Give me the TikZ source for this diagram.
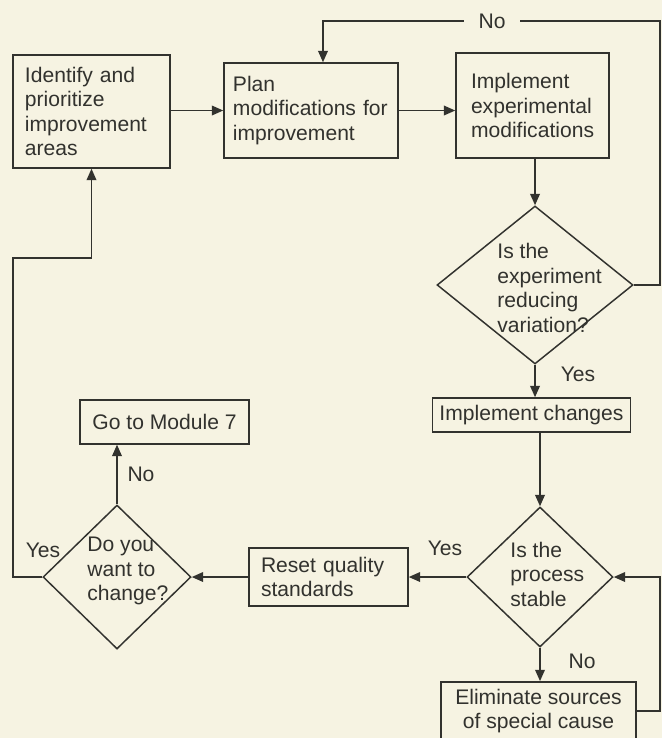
\documentclass[tikz,border=0pt]{standalone}
\usepackage{fontspec}
\setmainfont{Liberation Sans}
\usetikzlibrary{shapes.geometric,arrows.meta}
\definecolor{paper}{RGB}{246,243,226}
\definecolor{ink}{RGB}{50,50,46}

\begin{document}
\begin{tikzpicture}[
  font=\fontsize{10}{11.6}\selectfont,
  every node/.style={text=ink},
  block/.style={draw=ink, line width=0.7pt, align=left, inner xsep=0.2cm},
  single/.style={draw=ink, line width=0.7pt, align=center},
  choice/.style={draw=ink, line width=0.7pt, diamond, inner sep=0pt},
  words/.style={align=left, inner sep=0pt},
  flow/.style={draw=ink, line width=0.8pt, -{Triangle[length=1.9mm,width=1.6mm]}}
]

\fill[paper] (0,0) rectangle (11.033,12.3);
\useasboundingbox (0,0) rectangle (11.033,12.3);

% top row
\node[block, text width=2.217cm, minimum height=1.883cm] (ident) at (1.525,10.442)
  {Identify and\\prioritize\\improvement\\areas};
\node[block, text width=2.6cm, inner xsep=0.15cm, minimum height=1.583cm] (plan) at (5.183,10.458)
  {Plan\\modifications for\\improvement};
\node[block, text width=2.05cm, inner xsep=0.25cm, minimum height=1.75cm] (impl) at (8.875,10.542)
  {Implement\\experimental\\modifications};

% right column
\node[choice, minimum width=3.267cm, minimum height=2.633cm] (reduce) at (8.917,7.55) {};
\node[words, anchor=west] (reduce-q) at (8.283,7.5) {Is the\\experiment\\reducing\\variation?};
\node[single, minimum width=3.283cm, minimum height=0.567cm] (change) at (8.858,5.383) {Implement changes};
\node[choice, minimum width=2.433cm, minimum height=2.333cm] (stable) at (9.0,2.683) {};
\node[words, anchor=west] (stable-q) at (8.5,2.733) {Is the\\process\\stable};
\node[single, minimum width=3.25cm, minimum height=0.867cm] (elim) at (8.975,0.45)
  {Eliminate sources\\of special cause};

% bottom left
\node[block, text width=2.25cm, minimum height=0.967cm] (reset) at (5.475,2.683) {Reset quality\\standards};
\node[choice, minimum width=2.467cm, minimum height=2.4cm] (want) at (1.95,2.683) {};
\node[words, anchor=west] (want-q) at (1.45,2.783) {Do you\\want to\\change?};
\node[single, minimum width=2.817cm, minimum height=0.733cm] (module) at (2.742,5.267) {Go to Module 7};

% bends of the loops
\coordinate (ntop) at (11.0,11.95);
\coordinate (ptop) at (5.383,11.95);
\coordinate (rcol) at (11.0,1.5);
\coordinate (lcol) at (0.217,8.0);

\draw[flow] (ident.east |- plan.west) -- (plan.west);
\draw[flow] (plan.east) -- (plan.east -| impl.west);
\draw[flow] (impl.south -| reduce.north) -- (reduce.north);
\draw[flow] (reduce.east) -| (ntop) -- (ptop) -- (plan.north -| ptop);
\draw[flow] (reduce.south) -- (reduce.south |- change.north);
\draw[flow] (change.south -| stable.north) -- (stable.north);
\draw[flow] (stable.south) -- (stable.south |- elim.north);
\draw[flow] (elim.east) -| (rcol) |- (stable.east);
\draw[flow] (stable.west) -- (reset.east);
\draw[flow] (reset.west) -- (want.east);
\draw[flow] (want.north) -- (want.north |- module.south);
\draw[flow] (want.west) -| (lcol) -| (ident.south);

% answers
\node[fill=paper, inner xsep=0.25cm] (no-a) at (8.2,11.95) {No};
\node (yes-a) at (9.633,6.067) {Yes};
\node (no-b) at (9.7,1.283) {No};
\node (yes-b) at (7.417,3.167) {Yes};
\node (no-c) at (2.35,4.4) {No};
\node (yes-c) at (0.717,3.133) {Yes};

\end{tikzpicture}
\end{document}
